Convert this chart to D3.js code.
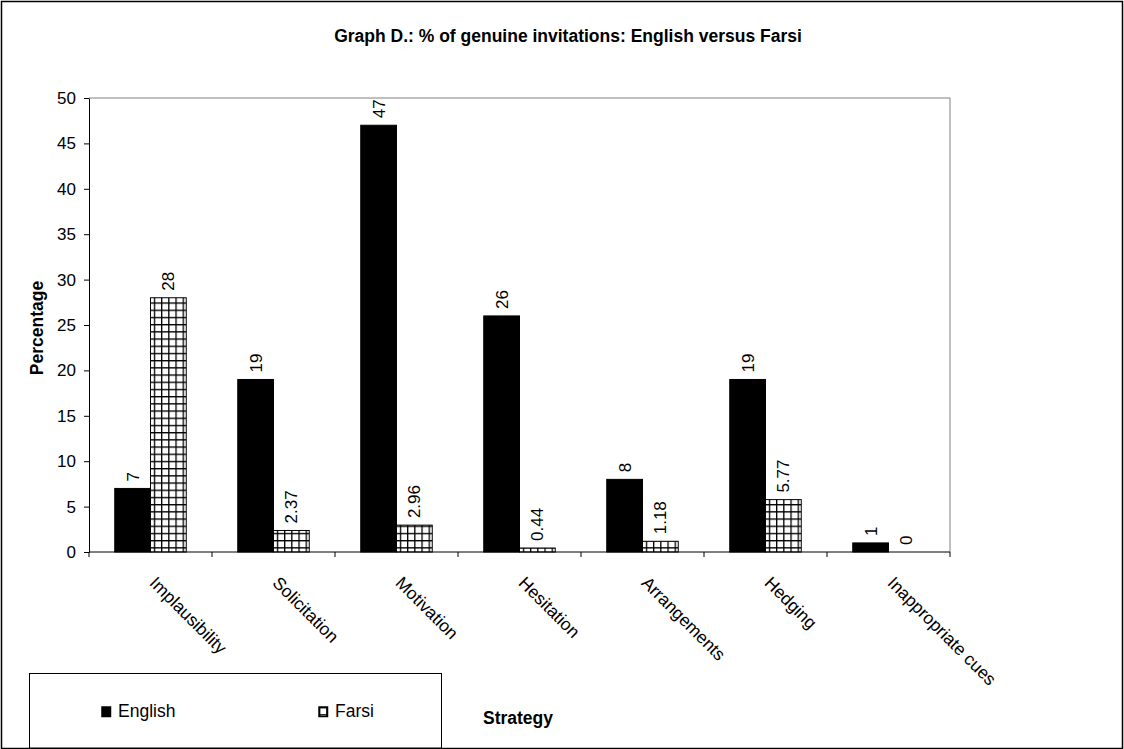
<!DOCTYPE html>
<html>
<head>
<meta charset="utf-8">
<script src="https://cdn.jsdelivr.net/npm/d3@7"></script>
<style>
  body { margin: 0; background: #fff; }
  text { font-family: "Liberation Sans", Arial, sans-serif; fill: #000; }
</style>
</head>
<body>
<div id="chart"></div>
<script>
// chart data
const categories = ["Implausibility", "Solicitation", "Motivation", "Hesitation", "Arrangements", "Hedging", "Inappropriate cues"];
const series = ["English", "Farsi"];
const english = [7, 19, 47, 26, 8, 19, 1];
const farsi = [28, 2.37, 2.96, 0.44, 1.18, 5.77, 0];
const yTicks = [0, 5, 10, 15, 20, 25, 30, 35, 40, 45, 50];

const w = 1124, h = 749;
const plotL = 89, plotR = 950, plotT = 98, plotB = 552;

const svg = d3.select("#chart").append("svg")
  .attr("width", w).attr("height", h);

// hatch pattern for Farsi bars
const defs = svg.append("defs");
const pat = defs.append("pattern")
  .attr("id", "grid").attr("patternUnits", "userSpaceOnUse")
  .attr("width", 7.2).attr("height", 7.2);
pat.append("rect").attr("width", 7.2).attr("height", 7.2).attr("fill", "#fff");
pat.append("path").attr("d", "M0,0.6H7.2M0.6,0V7.2")
  .attr("stroke", "#000").attr("stroke-width", 1.4);

// outer frame
svg.append("rect").attr("x", 1.5).attr("y", 1.5).attr("width", 1121).attr("height", 747)
  .attr("fill", "none").attr("stroke", "#000").attr("stroke-width", 1.5);

// title
svg.append("text").attr("x", 568).attr("y", 42).attr("text-anchor", "middle")
  .style("font-weight", "bold").style("font-size", "17.5px")
  .text("Graph D.: % of genuine invitations: English versus Farsi");

// scales
const x0 = d3.scaleBand().domain(categories).range([plotL, plotR]);
const gap = x0.bandwidth() - 71.5;
const x1 = d3.scaleBand().domain(series).range([gap / 2, x0.bandwidth() - gap / 2]);
const y = d3.scaleLinear().domain([0, 50]).range([plotB, plotT]);

// plot area border (top and right)
svg.append("path")
  .attr("d", `M${plotL},${plotT}H${plotR}V${plotB}`)
  .attr("fill", "none").attr("stroke", "#808080").attr("stroke-width", 1);

// bars
const rows = categories.map((c, i) => ({ c, vals: [english[i], farsi[i]] }));
const groups = svg.selectAll(".grp").data(rows).enter().append("g")
  .attr("transform", d => `translate(${x0(d.c)},0)`);

groups.selectAll("rect")
  .data(d => d.vals.map((v, j) => ({ s: series[j], v })))
  .enter().append("rect")
  .attr("x", d => x1(d.s))
  .attr("y", d => y(d.v))
  .attr("width", x1.bandwidth())
  .attr("height", d => plotB - y(d.v))
  .attr("fill", d => d.s === "English" ? "#000" : "url(#grid)")
  .attr("stroke", "#000").attr("stroke-width", 1)
  .style("display", d => d.v === 0 ? "none" : null);

// value labels, rotated
groups.selectAll(".lbl")
  .data(d => d.vals.map((v, j) => ({ s: series[j], v })))
  .enter().append("text")
  .attr("class", "lbl")
  .attr("transform", d => `translate(${x1(d.s) + x1.bandwidth() / 2 + 6},${y(d.v) - 7}) rotate(-90)`)
  .style("font-size", "17px")
  .text(d => d.v);

// y axis
const yAxis = d3.axisLeft(y).tickValues(yTicks).tickSize(5).tickSizeOuter(0);
const gy = svg.append("g").attr("transform", `translate(${plotL},0)`).call(yAxis);
gy.selectAll("text").style("font-size", "17px").style("font-family", "Liberation Sans, Arial, sans-serif").attr("x", -13);
gy.select(".domain").attr("stroke", "#000");

// x axis with ticks at category boundaries
const gx = svg.append("g").attr("transform", `translate(0,${plotB})`);
gx.append("line").attr("x1", plotL).attr("x2", plotR).attr("stroke", "#000");
gx.selectAll(".tk").data(categories.concat([null])).enter().append("line")
  .attr("x1", (d, i) => plotL + i * x0.step()).attr("x2", (d, i) => plotL + i * x0.step())
  .attr("y1", 0).attr("y2", 5).attr("stroke", "#000");
gx.selectAll(".cat").data(categories).enter().append("text")
  .attr("transform", d => `translate(${x0(d) + x0.bandwidth() / 2 - 2},${32}) rotate(45)`)
  .style("font-size", "17.5px")
  .text(d => d);

// axis titles
svg.append("text")
  .attr("transform", `translate(43,${(plotT + plotB) / 2 + 3}) rotate(-90)`)
  .attr("text-anchor", "middle")
  .style("font-weight", "bold").style("font-size", "17.5px")
  .text("Percentage");
svg.append("text").attr("x", 483).attr("y", 724)
  .style("font-weight", "bold").style("font-size", "17.5px")
  .text("Strategy");

// legend
svg.append("rect").attr("x", 29.5).attr("y", 673.5).attr("width", 412).attr("height", 74.5)
  .attr("fill", "#fff").attr("stroke", "#000").attr("stroke-width", 1);
const leg = svg.selectAll(".leg").data(series).enter().append("g")
  .attr("transform", (d, i) => `translate(${i === 0 ? 102 : 319},707)`);
leg.append("rect").attr("width", 8.5).attr("height", 9.5)
  .attr("fill", d => d === "English" ? "#000" : "url(#grid)")
  .attr("stroke", "#000").attr("stroke-width", 1.5);
leg.append("text").attr("x", 16).attr("y", 10)
  .style("font-size", "17.5px").text(d => d);
</script>
</body>
</html>
